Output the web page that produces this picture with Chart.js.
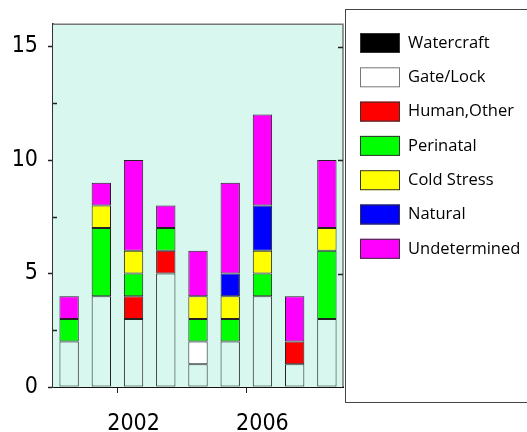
<!DOCTYPE html>
<html>
<head>
<meta charset="utf-8">
<script src="https://cdn.jsdelivr.net/npm/chart.js@4.4.1/dist/chart.umd.min.js"></script>
<style>
  html, body { margin: 0; padding: 0; background: #fff; }
  #wrap { width: 527px; height: 432px; position: relative; }
</style>
</head>
<body>
<div id="wrap"><canvas id="myChart" width="527" height="432"></canvas></div>
<script>
var years = ["2000", "2001", "2002", "2003", "2004", "2005", "2006", "2007", "2008"];
var shownYears = ["2002", "2006"];
var causes = ["Watercraft", "Gate/Lock", "Human,Other", "Perinatal", "Cold Stress", "Natural", "Undetermined"];

var watercraft   = [2, 4, 3, 5, 1, 2, 4, 1, 3];
var gateLock     = [0, 0, 0, 0, 1, 0, 0, 0, 0];
var humanOther   = [0, 0, 1, 1, 0, 0, 0, 1, 0];
var perinatal    = [1, 3, 1, 1, 1, 1, 1, 0, 3];
var coldStress   = [0, 1, 1, 0, 1, 1, 1, 0, 1];
var natural      = [0, 0, 0, 0, 0, 1, 2, 0, 0];
var undetermined = [1, 1, 4, 1, 2, 4, 4, 2, 3];

var yTicks = [0, 5, 10, 15];

var plotBg = "#d7f7ef";
var barColors    = [plotBg, "#ffffff", "#ff0000", "#00ff00", "#ffff00", "#0000ff", "#ff00ff"];
var legendColors = ["#000000", "#ffffff", "#ff0000", "#00ff00", "#ffff00", "#0000ff", "#ff00ff"];

var series = [watercraft, gateLock, humanOther, perinatal, coldStress, natural, undetermined];

var tickFont = "'DejaVu Sans Condensed', 'Liberation Sans Narrow', 'Liberation Sans', sans-serif";

var datasets = series.map((vals, i) => ({
  label: causes[i],
  data: vals,
  backgroundColor: barColors[i],
  borderColor: "#222",
  borderWidth: 1,
  borderSkipped: false,
  categoryPercentage: 1,
  barPercentage: 0.6
}));

// plot background + frame + the extra tick marks + boxed legend
const frame = {
  id: "frame",
  beforeDatasetsDraw(chart) {
    const a = chart.chartArea, ctx = chart.ctx;
    ctx.save();
    ctx.fillStyle = plotBg;
    ctx.fillRect(a.left, a.top, a.right - a.left, a.bottom - a.top);
    ctx.restore();
  },
  afterDatasetsDraw(chart) {
    const a = chart.chartArea, ctx = chart.ctx, y = chart.scales.y;
    ctx.save();
    ctx.strokeStyle = "#777";
    ctx.lineWidth = 1.5;
    ctx.beginPath();
    ctx.moveTo(a.left, a.top + 0.5);
    ctx.lineTo(a.right, a.top + 0.5);
    ctx.lineTo(a.right, a.bottom);
    ctx.stroke();
    ctx.strokeStyle = "#222";
    ctx.lineWidth = 1.5;
    ctx.beginPath();
    [2.5, 7.5, 12.5].forEach(v => {
      const py = Math.round(y.getPixelForValue(v)) + 0.5;
      ctx.moveTo(a.left, py); ctx.lineTo(a.left + 4, py);
    });
    yTicks.slice(1).forEach(v => {
      const py = Math.round(y.getPixelForValue(v)) + 0.5;
      ctx.moveTo(a.right - 5, py); ctx.lineTo(a.right, py);
    });
    ctx.stroke();
    ctx.restore();
  },
  afterDraw(chart) {
    const ctx = chart.ctx;
    ctx.save();
    ctx.strokeStyle = "#444";
    ctx.lineWidth = 1;
    ctx.strokeRect(345.5, 9.5, 190, 393);
    // shrink the font until the longest label fits the box
    let size = 20;
    const widest = () => Math.max(...chart.data.datasets.map(d => ctx.measureText(d.label).width));
    ctx.font = size + "px 'Open Sans', sans-serif";
    while (size > 10 && widest() > 113) {
      size -= 0.5;
      ctx.font = size + "px 'Open Sans', sans-serif";
    }
    ctx.textBaseline = "middle";
    chart.data.datasets.forEach((ds, i) => {
      const top = 33 + i * 34.3;
      ctx.fillStyle = legendColors[i];
      ctx.fillRect(360, top, 40, 20);
      ctx.strokeStyle = i == 1 ? "#777" : "#333";
      ctx.strokeRect(360.5, top + 0.5, 39, 19);
      ctx.fillStyle = "#000";
      ctx.fillText(ds.label, 408, top + 10);
    });
    ctx.restore();
  }
};

new Chart("myChart", {
  type: "bar",
  data: { labels: years, datasets: datasets },
  options: {
    responsive: false,
    animation: false,
    layout: { padding: { top: 12, right: 184, left: 0, bottom: 0 } },
    plugins: { legend: { display: false }, tooltip: { enabled: false } },
    scales: {
      x: {
        stacked: true,
        afterFit: s => { s.height = 45; },
        grid: {
          drawOnChartArea: false,
          tickLength: 6,
          tickColor: c => shownYears.includes(years[c.index]) ? "#222" : "rgba(0,0,0,0)"
        },
        border: { color: "#111", width: 2 },
        ticks: {
          autoSkip: false,
          maxRotation: 0,
          padding: 17,
          color: "#000",
          font: { family: tickFont, size: 23 },
          callback: function (v, i) { return shownYears.includes(years[i]) ? years[i] : ""; }
        }
      },
      y: {
        stacked: true,
        min: 0,
        max: 16,
        afterFit: s => { s.width = 53; },
        afterBuildTicks: s => { s.ticks = yTicks.map(v => ({ value: v })); },
        grid: { drawOnChartArea: false, tickLength: 5, tickColor: "#222", tickWidth: 1.5 },
        border: { color: "#333", width: 2 },
        ticks: {
          padding: 10,
          color: "#000",
          font: { family: tickFont, size: 23 }
        }
      }
    }
  },
  plugins: [frame]
});
</script>
</body>
</html>
